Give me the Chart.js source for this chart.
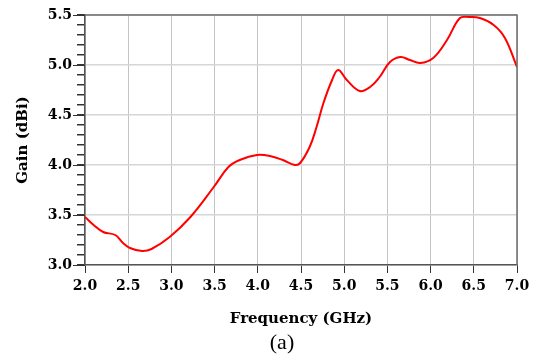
<!DOCTYPE html>
<html>
<head>
<meta charset="utf-8">
<script src="https://cdn.jsdelivr.net/npm/chart.js@4"></script>
<style>
  body { margin: 0; background: #fff; }
  #wrap { width: 535px; height: 355px; }
</style>
</head>
<body>
<div id="wrap"><canvas id="myChart"></canvas></div>
<script>
// frequency (GHz) and gain (dBi)
var freq = [2.0, 2.10, 2.21, 2.35, 2.44, 2.52, 2.66, 2.77, 2.98, 3.22, 3.49, 3.66, 3.79, 3.99, 4.14, 4.29, 4.43, 4.49, 4.6, 4.68, 4.76, 4.86, 4.93, 5.03, 5.18, 5.3, 5.41, 5.53, 5.65, 5.76, 5.88, 6.03, 6.19, 6.34, 6.45, 6.57, 6.73, 6.86, 7.0];
var gain = [3.48, 3.40, 3.33, 3.30, 3.22, 3.17, 3.14, 3.16, 3.28, 3.48, 3.78, 3.98, 4.05, 4.10, 4.09, 4.05, 4.0, 4.02, 4.18, 4.38, 4.62, 4.85, 4.95, 4.85, 4.74, 4.78, 4.88, 5.03, 5.08, 5.05, 5.02, 5.07, 5.25, 5.47, 5.48, 5.47, 5.40, 5.27, 4.98];
var xTicks = [2.0, 2.5, 3.0, 3.5, 4.0, 4.5, 5.0, 5.5, 6.0, 6.5, 7.0];
var yTicks = [3.0, 3.5, 4.0, 4.5, 5.0, 5.5];
var caption = "(a)";

var points = freq.map(function(f, i){ return {x: f, y: gain[i]}; });

function isMajor(v){
  return Math.round(v * 10) % 5 === 0;
}

// frame on top/right, longer major ticks on y, and the caption
var frame = {
  id: "frame",
  afterDraw: function(chart){
    var ctx = chart.ctx;
    var a = chart.chartArea;
    var ys = chart.scales.y;
    ctx.save();
    ctx.strokeStyle = "#6e6e6e";
    ctx.lineWidth = 1.5;
    ctx.beginPath();
    ctx.moveTo(a.left, a.top);
    ctx.lineTo(a.right, a.top);
    ctx.lineTo(a.right, a.bottom);
    ctx.stroke();
    ctx.strokeStyle = "#333";
    ctx.lineWidth = 1;
    yTicks.forEach(function(v){
      var py = Math.round(ys.getPixelForValue(v)) + 0.5;
      ctx.beginPath();
      ctx.moveTo(a.left - 12, py);
      ctx.lineTo(a.left, py);
      ctx.stroke();
    });
    ctx.fillStyle = "#000";
    ctx.font = "22px 'Liberation Serif'";
    ctx.textAlign = "center";
    ctx.textBaseline = "middle";
    ctx.fillText(caption, 282, 343);
    ctx.restore();
  }
};

new Chart("myChart", {
  type: "line",
  data: {
    datasets: [{
      data: points,
      borderColor: "#ff0000",
      borderWidth: 2,
      pointRadius: 0,
      tension: 0.4,
      fill: false
    }]
  },
  options: {
    responsive: true,
    maintainAspectRatio: false,
    animation: false,
    layout: {padding: {left: 0, right: 18, top: 15, bottom: 0}},
    plugins: {
      legend: {display: false},
      tooltip: {enabled: false}
    },
    scales: {
      x: {
        type: "linear",
        min: 2,
        max: 7,
        afterBuildTicks: function(scale){
          scale.ticks = xTicks.map(function(v){ return {value: v}; });
        },
        afterFit: function(scale){ scale.height = 90; },
        ticks: {
          color: "#000",
          padding: 5,
          maxRotation: 0,
          autoSkip: false,
          font: {family: "'DejaVu Serif'", size: 14, weight: "bold"},
          callback: function(v){ return Number(v).toFixed(1); }
        },
        grid: {
          color: "#c4c4c4",
          lineWidth: 1,
          tickColor: "#333",
          tickLength: 8
        },
        border: {color: "#555", width: 1.5},
        title: {
          display: true,
          text: "Frequency (GHz)",
          color: "#000",
          font: {family: "'DejaVu Serif'", size: 15, weight: "bold"},
          padding: {top: 0, bottom: 27}
        }
      },
      y: {
        min: 3,
        max: 5.5,
        afterFit: function(scale){ scale.width = 85; },
        ticks: {
          stepSize: 0.1,
          autoSkip: false,
          color: "#000",
          padding: 5,
          font: {family: "'DejaVu Serif'", size: 14, weight: "bold"},
          callback: function(v){ return isMajor(v) ? Number(v).toFixed(1) : ""; }
        },
        grid: {
          color: function(c){ return c.tick && isMajor(c.tick.value) ? "#d6d6d6" : "rgba(0,0,0,0)"; },
          lineWidth: 1.5,
          tickColor: "#333",
          tickLength: 8
        },
        border: {color: "#555", width: 1.5},
        title: {
          display: true,
          text: "Gain (dBi)",
          color: "#000",
          font: {family: "'DejaVu Serif'", size: 15, weight: "bold"},
          padding: {top: 14, bottom: 0}
        }
      }
    }
  },
  plugins: [frame]
});
</script>
</body>
</html>
